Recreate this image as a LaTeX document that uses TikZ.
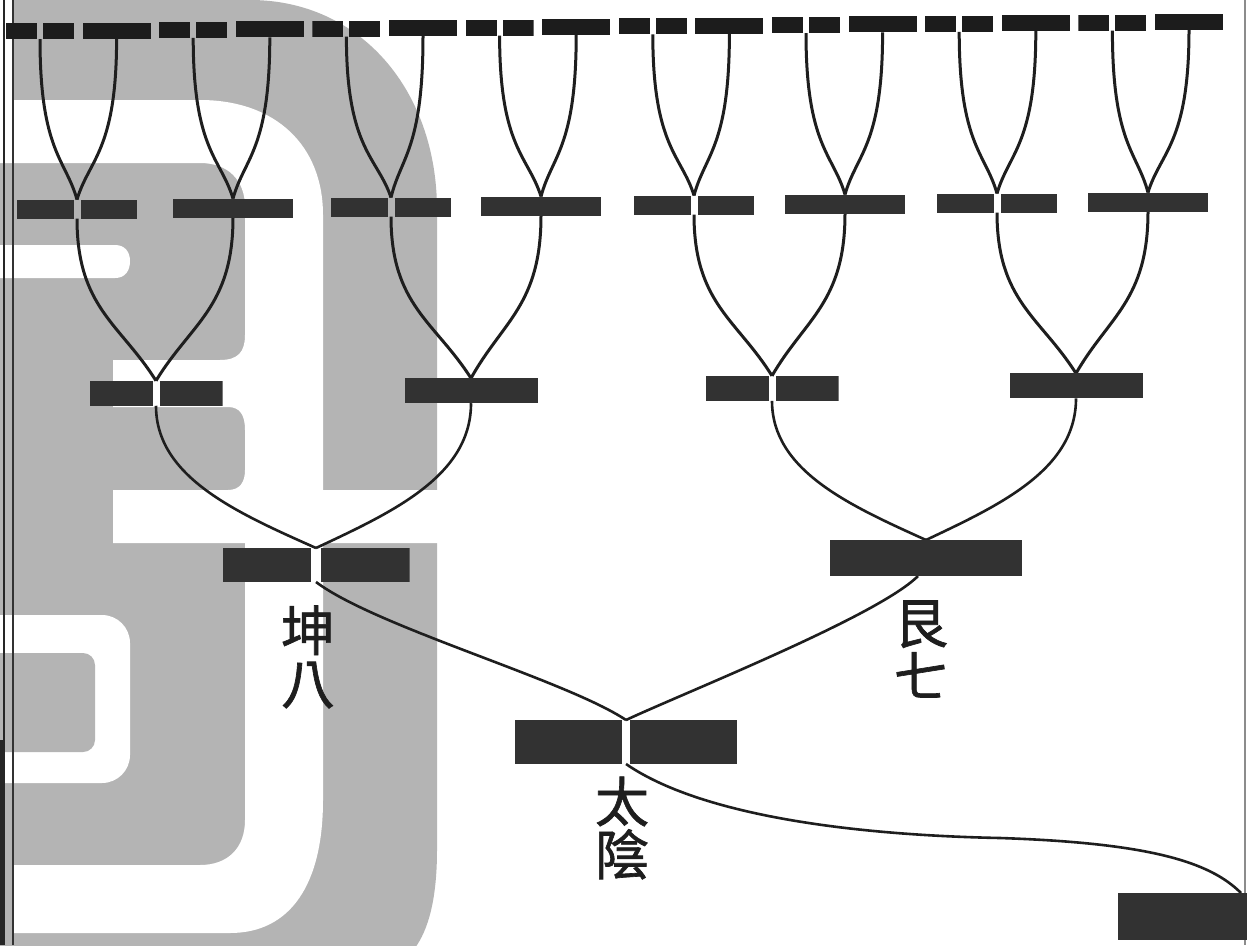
\documentclass[tikz,border=0pt]{standalone}
\usepackage{fontspec}
\newfontfamily\cjk[FakeBold=1.2]{Noto Sans CJK TC}
\usetikzlibrary{calc}
\definecolor{wm}{RGB}{180,180,180}
\definecolor{barcol}{RGB}{50,50,50}
\definecolor{topcol}{RGB}{28,28,28}
\definecolor{inkcol}{RGB}{30,30,30}
\pgfdeclarelayer{wmlayer}
\pgfdeclarelayer{linelayer}
\pgfsetlayers{wmlayer,linelayer,main}
\def\barc{barcol}
\begin{document}
\begin{tikzpicture}[x=1pt,y=-1pt,
  bc/.code={\def\barc{#1}},
  yang/.style={inner sep=0pt, outer sep=0pt, fill=#1},
  yang/.default=barcol,
  yin/.style={inner sep=0pt, outer sep=0pt, path picture={
     \fill[\barc] (path picture bounding box.south west) rectangle ([xshift=-#1]path picture bounding box.north);
     \fill[\barc] ([xshift=#1]path picture bounding box.south) rectangle (path picture bounding box.north east);}},
  conn/.style={draw=inkcol, line width=3pt},
  connthin/.style={draw=inkcol, line width=2.6pt},
  lab/.style={font=\cjk\fontsize{54}{53}\selectfont, align=center, inner sep=0pt, text=inkcol}
]
\useasboundingbox (0,0) rectangle (1247,945);

% ---------- watermark ----------
\begin{pgfonlayer}{wmlayer}
\fill[white] (0,0) rectangle (1247,945);
\fill[wm] (12,0) -- (250,0) .. controls (360,0) and (437,90) .. (437,210) -- (437,850)
  .. controls (437,900) and (428,930) .. (415,948) -- (-2,948) -- (-2,100) -- (12,100) -- cycle;
\fill[white] (-2,100) -- (200,100) .. controls (275,100) and (323,145) .. (323,215) -- (323,800)
  .. controls (323,885) and (290,933) .. (230,933) -- (12,933) -- (12,865) -- (200,865)
  .. controls (228,865) and (245,848) .. (245,820) -- (245,207)
  .. controls (245,180) and (228,163) .. (200,163) -- (-2,163) -- cycle;
\fill[white] (113,543) -- (113,490) -- (228,490) .. controls (240,490) and (245,482) .. (245,470)
  -- (250,470) -- (250,490) -- (438,490) -- (438,543) -- cycle;
\fill[white] (113,360) -- (220,360) .. controls (238,360) and (245,352) .. (245,335) -- (250,335)
  -- (250,430) -- (245,430) .. controls (245,415) and (240,407) .. (228,407) -- (113,407) -- cycle;
\fill[white] (-2,245) -- (115,245) .. controls (125,245) and (130,252) .. (130,261)
  .. controls (130,271) and (125,278) .. (115,278) -- (-2,278) -- cycle;
\fill[white, rounded corners=28pt] (-40,615) rectangle (130,783);
\fill[wm, rounded corners=12pt] (-40,653) rectangle (95,752);
% page border
\fill[black!85] (0,740) rectangle (5,945);
\draw[line width=2.6pt, black!85] (4,0) -- (4,945);
\draw[line width=2pt, black!80] (13,0) -- (13,945);
\draw[line width=1.5pt, black!45] (1245,0) -- (1245,945);
\end{pgfonlayer}

% ---------- bars ----------
\foreach \i in {0,...,15}{
  \pgfmathsetmacro\xx{40+76.6*\i}
  \pgfmathsetmacro\yy{31.5-0.008*\xx}
  \pgfmathtruncatemacro\odd{mod(\i,2)}
  \ifnum\odd=0
    \node[yin=3pt, bc=topcol, minimum width=68pt, minimum height=16pt] (t\i) at (\xx,\yy) {};
  \else
    \node[yang=topcol, minimum width=68pt, minimum height=16pt] (t\i) at (\xx,\yy) {};
  \fi
}
\foreach \xx [count=\k from 0] in {77,233,391,541,694,845,997,1148}{
  \pgfmathsetmacro\yy{209.6-0.0066*\xx}
  \pgfmathtruncatemacro\odd{mod(\k,2)}
  \ifnum\odd=0
    \node[yin=3.5pt, minimum width=120pt, minimum height=19pt] (f\k) at (\xx,\yy) {};
  \else
    \node[yang, minimum width=120pt, minimum height=19pt] (f\k) at (\xx,\yy) {};
  \fi
}
\foreach \xx [count=\k from 0] in {156,471,772,1076}{
  \pgfmathsetmacro\yy{394.5-0.008*\xx}
  \pgfmathtruncatemacro\odd{mod(\k,2)}
  \ifnum\odd=0
    \node[yin=3.5pt, minimum width=133pt, minimum height=25pt] (h\k) at (\xx,\yy) {};
  \else
    \node[yang, minimum width=133pt, minimum height=25pt] (h\k) at (\xx,\yy) {};
  \fi
}
\node[yin=5pt, minimum width=187pt, minimum height=34pt] (kun) at (316,565) {};
\node[yang, minimum width=192pt, minimum height=36pt] (gen) at (926,558) {};
\node[yin=4pt, minimum width=222pt, minimum height=44pt] (taiyin) at (626,742) {};
\node[yang, minimum width=135pt, minimum height=47pt] (taiji) at (1185.5,916.5) {};

% ---------- labels ----------
\node[lab] (kunlab) at (308,657) {坤\\八};
\node[lab] (genlab) at (921,649) {艮\\七};
\node[lab] (taiyinlab) at (622,828) {太\\陰};

% ---------- connectors ----------
\begin{pgfonlayer}{linelayer}
\foreach \i in {0,...,15}{
  \pgfmathtruncatemacro\mom{\i/2}
  \draw[conn] let \p1=(t\i.south), \p2=(f\mom.north) in
    (\p1) .. controls (\x1,{\y1+0.7*((\y2)-(\y1))}) and ({\x2+0.3*((\x1)-(\x2))},{\y2+0.25*((\y1)-(\y2))}) .. (\p2);
}
\foreach \k in {0,...,7}{
  \pgfmathtruncatemacro\mom{\k/2}
  \draw[conn] let \p1=(f\k.south), \p2=(h\mom.north) in
    (\p1) .. controls (\x1,{\y1+0.55*((\y2)-(\y1))}) and ({\x2+0.45*((\x1)-(\x2))},{\y2+0.35*((\y1)-(\y2))}) .. (\p2);
}
\foreach \k/\tgt in {0/kun,1/kun,2/gen,3/gen}{
  \draw[connthin] let \p1=(h\k.south), \p2=(\tgt.north) in
    (\p1) .. controls (\x1,{\y1+0.5*((\y2)-(\y1))}) and ({\x2+0.5*((\x1)-(\x2))},{\y2+0.25*((\y1)-(\y2))}) .. (\p2);
}
\draw[connthin] (kun.south) .. controls +(60,45) and +(-60,-40) .. (taiyin.north);
\draw[connthin] ([xshift=-8pt]gen.south) .. controls +(-40,40) and +(60,-28) .. (taiyin.north);
\coordinate (bend) at (1000,838);
\draw[connthin] (taiyin.south) .. controls +(74,51) and +(-150,-3) .. (bend)
  .. controls +(150,5) and +(-31,-31) .. ([xshift=-12pt]taiji.north east);
\end{pgfonlayer}
\end{tikzpicture}
\end{document}
